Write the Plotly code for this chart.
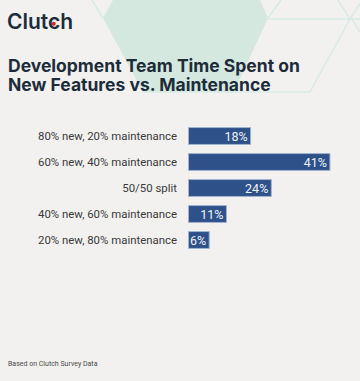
import plotly.graph_objects as go

W, H = 360, 381

categories = [
    "80% new, 20% maintenance",
    "60% new, 40% maintenance",
    "50/50 split",
    "40% new, 60% maintenance",
    "20% new, 80% maintenance",
]
values = [18, 41, 24, 11, 6]
value_labels = [f"{v}%" for v in values]

title_lines = ["Development Team Time Spent on", "New Features vs. Maintenance"]
logo_text = "Clutch"
footer_text = "Based on Clutch Survey Data"

BG = "#f2f1f0"
HEX_FILL = "#d5e8e0"
HEX_LINE = "#d6ebe4"
INK = "#1d2c3a"


def px(x):
    return x / W


def py(y):
    return 1 - y / H


fig = go.Figure()
fig.add_trace(go.Bar(
    y=categories,
    x=values,
    orientation="h",
    width=0.65,
    marker=dict(color="#2f5189", line=dict(color="#9fb2d0", width=1)),
    text=value_labels,
    textposition="inside",
    insidetextanchor="end",
    constraintext="none",
    textfont=dict(family="Roboto", size=12.5, color="#eef2f8"),
    hoverinfo="skip",
))

# axis geometry (pixels)
plot_left, plot_right = 178, 360
zero_px, scale = 188.5, 3.45
xmin = (plot_left - zero_px) / scale
xmax = (plot_right - zero_px) / scale
plot_top, plot_bottom = 123, 253

shapes = []
# hexagon background fill
hex_pts = [(113, 0), (260, 0), (268, 18), (234, 92), (143, 92), (103, 18)]
path = "M " + " L ".join(f"{px(x):.5f},{py(y):.5f}" for x, y in hex_pts) + " Z"
shapes.append(dict(type="path", path=path, xref="paper", yref="paper",
                   fillcolor=HEX_FILL, line=dict(width=0), layer="below"))
hex_lines = [
    ((92, 0), (103, 18)),
    ((268, 18), (281, 0)),
    ((268, 19), (360, 19)),
    ((338, 0), (350, 19)),
    ((350, 19), (310, 92)),
    ((350, 19), (361, 2)),
    ((352, 19), (361, 34)),
    ((143, 92), (310, 92)),
]
for (x0, y0), (x1, y1) in hex_lines:
    shapes.append(dict(type="line", xref="paper", yref="paper",
                       x0=px(x0), y0=py(y0), x1=px(x1), y1=py(y1),
                       line=dict(color=HEX_LINE, width=1.5), layer="below"))
# red dot of the logo
shapes.append(dict(type="circle", xref="paper", yref="paper",
                   x0=px(51.8), x1=px(55.8), y0=py(25.8), y1=py(21.8),
                   fillcolor="#e3231b", line=dict(width=0)))

annotations = [
    dict(text=logo_text, x=px(4.5), y=py(21.5), xref="paper", yref="paper",
         xanchor="left", yanchor="middle", showarrow=False,
         font=dict(family="Inter", size=21, color=INK, weight=600)),
    dict(text=f"<b>{title_lines[0]}</b>", x=px(6), y=py(65), xref="paper", yref="paper",
         xanchor="left", yanchor="middle", showarrow=False,
         font=dict(family="Inter", size=17.5, color=INK)),
    dict(text=f"<b>{title_lines[1]}</b>", x=px(6), y=py(84), xref="paper", yref="paper",
         xanchor="left", yanchor="middle", showarrow=False,
         font=dict(family="Inter", size=17.5, color=INK)),
    dict(text=footer_text, x=px(6), y=py(364), xref="paper", yref="paper",
         xanchor="left", yanchor="middle", showarrow=False,
         font=dict(family="Roboto", size=7, color="#4a4a4a")),
]

fig.update_layout(
    width=W, height=H,
    margin=dict(l=0, r=0, t=0, b=0),
    paper_bgcolor=BG, plot_bgcolor="rgba(0,0,0,0)",
    showlegend=False,
    bargap=0.35,
    shapes=shapes,
    annotations=annotations,
    xaxis=dict(domain=[px(plot_left), px(plot_right)], range=[xmin, xmax],
               visible=False, fixedrange=True),
    yaxis=dict(domain=[py(plot_bottom), py(plot_top)], autorange="reversed",
               showgrid=False, zeroline=False, showline=False, ticks="",
               tickfont=dict(family="Roboto", size=11.4, color="#3a3a3a"),
               fixedrange=True),
)

fig.write_html("out.html")
